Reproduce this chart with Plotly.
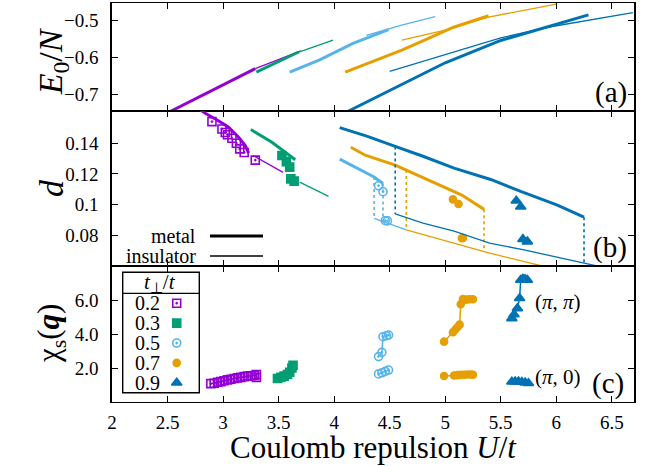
import plotly.graph_objects as go
from plotly.subplots import make_subplots

# ---------------- colours / labels ----------------
PURPLE = "#9400D3"; GREEN = "#009E73"; LBLUE = "#56B4E9"; ORANGE = "#E69F00"; BLUE = "#0072B2"
tperp_labels = ["0.2", "0.3", "0.5", "0.7", "0.9"]
x_ticks = [2, 2.5, 3, 3.5, 4, 4.5, 5, 5.5, 6, 6.5]
x_ticktext = ["2", "2.5", "3", "3.5", "4", "4.5", "5", "5.5", "6", "6.5"]
ya_ticks = [-0.7, -0.6, -0.5]
yb_ticks = [0.08, 0.1, 0.12, 0.14]
yb_ticktext = ["0.08", "0.1", "0.12", "0.14"]
yc_ticks = [2, 4, 6]
yc_ticktext = ["2.0", "4.0", "6.0"]

# ---------------- panel (a): E0/N ----------------
ea02_met_U = [2.52, 2.80, 3.05, 3.29]
ea02_met_E = [-0.747, -0.705, -0.667, -0.631]
ea02_ins_U = [3.29, 3.50, 3.70]
ea02_ins_E = [-0.631, -0.606, -0.583]
ea03_met_U = [3.30, 3.50, 3.68]
ea03_met_E = [-0.640, -0.611, -0.586]
ea03_ins_U = [3.65, 3.82, 3.99]
ea03_ins_E = [-0.590, -0.571, -0.554]
ea05_met_U = [3.60, 3.87, 4.17, 4.49]
ea05_met_E = [-0.640, -0.607, -0.563, -0.526]
ea05_ins_U = [4.29, 4.60, 4.91]
ea05_ins_E = [-0.541, -0.514, -0.491]
ea07_met_U = [4.10, 4.35, 4.61, 4.85, 5.07, 5.39]
ea07_met_E = [-0.640, -0.610, -0.581, -0.549, -0.520, -0.488]
ea07_ins_U = [4.61, 5.00, 5.39, 6.00]
ea07_ins_E = [-0.554, -0.527, -0.492, -0.457]
ea09_met_U = [4.13, 4.50, 5.00, 5.50, 6.00, 6.29]
ea09_met_E = [-0.745, -0.689, -0.615, -0.555, -0.510, -0.486]
ea09_ins_U = [4.50, 5.00, 5.50, 5.95, 6.69]
ea09_ins_E = [-0.638, -0.592, -0.548, -0.518, -0.480]

# ---------------- panel (b): d ----------------
d02_met_U = [2.78, 2.84, 2.95, 3.05, 3.14, 3.20, 3.23]
d02_met_d = [0.1625, 0.1595, 0.1550, 0.1504, 0.1439, 0.1385, 0.1335]
d02_ins_U = [3.27, 3.54]
d02_ins_d = [0.1320, 0.1210]
d02_pts_U = [2.90, 2.99, 3.02, 3.04, 3.08, 3.12, 3.15, 3.19, 3.29]
d02_pts_d = [0.1541, 0.1493, 0.1470, 0.1455, 0.1432, 0.1400, 0.1363, 0.1340, 0.1290]

d03_met_U = [3.25, 3.44, 3.65]
d03_met_d = [0.1489, 0.1406, 0.1292]
d03_ins_U = [3.69, 3.95]
d03_ins_d = [0.1147, 0.1054]
d03_pts_U = [3.53, 3.57, 3.60, 3.61, 3.64]
d03_pts_d = [0.1320, 0.1280, 0.1244, 0.1168, 0.1153]

d05_met_U = [4.05, 4.28, 4.36, 4.44]
d05_met_d = [0.1296, 0.1212, 0.1180, 0.1138]
d05_ins_U = [4.36, 4.65]
d05_ins_d = [0.0910, 0.0835]
d05_pts_U = [4.40, 4.44, 4.46, 4.48]
d05_pts_d = [0.1123, 0.1084, 0.0895, 0.0894]
d05_trans_U = [4.36, 4.44]
d05_trans_top = [0.1180, 0.1138]
d05_trans_bot = [0.0910, 0.0885]

d07_met_U = [4.15, 4.28, 4.55, 4.65, 4.88, 5.15, 5.35]
d07_met_d = [0.1374, 0.1322, 0.1257, 0.1225, 0.1149, 0.1062, 0.0969]
d07_ins_U = [4.65, 4.88, 5.15, 5.40, 5.89, 6.00]
d07_ins_d = [0.0835, 0.0788, 0.0735, 0.0684, 0.0597, 0.0580]
d07_pts_U = [5.07, 5.12, 5.15, 5.16]
d07_pts_d = [0.1034, 0.1004, 0.0781, 0.0783]
d07_trans_U = [4.65, 5.35]
d07_trans_top = [0.1225, 0.0969]
d07_trans_bot = [0.0835, 0.0692]

d09_met_U = [4.05, 4.30, 4.55, 4.80, 5.08, 5.41, 5.68, 6.01, 6.25]
d09_met_d = [0.1502, 0.1445, 0.1379, 0.1315, 0.1238, 0.1164, 0.1086, 0.0997, 0.0918]
d09_ins_U = [4.55, 4.80, 5.08, 5.40, 5.71, 6.01, 6.25, 6.40]
d09_ins_d = [0.0939, 0.0880, 0.0827, 0.0749, 0.0705, 0.0658, 0.0619, 0.0595]
d09_pts_U = [5.64, 5.68, 5.70, 5.74]
d09_pts_d = [0.1025, 0.0986, 0.0775, 0.0759]
d09_trans_U = [4.55, 6.25]
d09_trans_top = [0.1379, 0.0918]
d09_trans_bot = [0.0939, 0.0619]

# ---------------- panel (c): chi_s(q) ----------------
chi02_U = [2.89, 2.92, 2.95, 2.98, 3.01, 3.04, 3.07, 3.10, 3.13, 3.16, 3.19, 3.22, 3.25, 3.28, 3.30, 3.30]
chi02 = [1.08, 1.10, 1.16, 1.20, 1.25, 1.30, 1.34, 1.38, 1.42, 1.45, 1.49, 1.52, 1.54, 1.56, 1.62, 1.45]
chi03_U = [3.49, 3.52, 3.55, 3.58, 3.60, 3.62, 3.63]
chi03 = [1.38, 1.45, 1.52, 1.62, 1.75, 2.00, 2.16]
chi05_pp_U = [4.40, 4.43, 4.44, 4.47, 4.49]
chi05_pp = [2.67, 2.92, 3.84, 3.90, 3.94]
chi05_p0_U = [4.40, 4.43, 4.46, 4.49]
chi05_p0 = [1.65, 1.72, 1.80, 1.88]
chi07_pp_U = [4.99, 5.07, 5.09, 5.11, 5.13, 5.14, 5.16, 5.19, 5.22, 5.25]
chi07_pp = [3.55, 4.10, 4.25, 4.40, 4.55, 5.75, 6.05, 6.02, 6.04, 6.04]
chi07_p0_U = [4.99, 5.08, 5.11, 5.14, 5.17, 5.20, 5.23, 5.25]
chi07_p0 = [1.53, 1.56, 1.58, 1.60, 1.60, 1.62, 1.62, 1.60]
chi09_pp_U = [5.60, 5.62, 5.65, 5.67, 5.68, 5.70, 5.72, 5.74]
chi09_pp = [4.92, 5.15, 5.51, 6.10, 7.18, 7.25, 7.22, 7.18]
chi09_p0_U = [5.60, 5.63, 5.66, 5.69, 5.72, 5.75]
chi09_p0 = [1.19, 1.20, 1.20, 1.18, 1.14, 1.10]

FONT = "Liberation Serif"
THICK = 3.0
THIN = 1.3

colors = [PURPLE, GREEN, LBLUE, ORANGE, BLUE]
symbols = ["square-open-dot", "square", "circle-open-dot", "circle", "triangle-up"]
msizes = [8, 8, 8, 7, 9]

series = [
    dict(ea=(ea02_met_U, ea02_met_E, ea02_ins_U, ea02_ins_E),
         db=(d02_met_U, d02_met_d, d02_ins_U, d02_ins_d, d02_pts_U, d02_pts_d),
         tr=None, chi=[(chi02_U, chi02)]),
    dict(ea=(ea03_met_U, ea03_met_E, ea03_ins_U, ea03_ins_E),
         db=(d03_met_U, d03_met_d, d03_ins_U, d03_ins_d, d03_pts_U, d03_pts_d),
         tr=None, chi=[(chi03_U, chi03)]),
    dict(ea=(ea05_met_U, ea05_met_E, ea05_ins_U, ea05_ins_E),
         db=(d05_met_U, d05_met_d, d05_ins_U, d05_ins_d, d05_pts_U, d05_pts_d),
         tr=(d05_trans_U, d05_trans_top, d05_trans_bot),
         chi=[(chi05_pp_U, chi05_pp), (chi05_p0_U, chi05_p0)]),
    dict(ea=(ea07_met_U, ea07_met_E, ea07_ins_U, ea07_ins_E),
         db=(d07_met_U, d07_met_d, d07_ins_U, d07_ins_d, d07_pts_U, d07_pts_d),
         tr=(d07_trans_U, d07_trans_top, d07_trans_bot),
         chi=[(chi07_pp_U, chi07_pp), (chi07_p0_U, chi07_p0)]),
    dict(ea=(ea09_met_U, ea09_met_E, ea09_ins_U, ea09_ins_E),
         db=(d09_met_U, d09_met_d, d09_ins_U, d09_ins_d, d09_pts_U, d09_pts_d),
         tr=(d09_trans_U, d09_trans_top, d09_trans_bot),
         chi=[(chi09_pp_U, chi09_pp), (chi09_p0_U, chi09_p0)]),
]

fig = make_subplots(rows=3, cols=1, shared_xaxes=True, vertical_spacing=0)

def ln(x, y, col, w, row, dash="solid"):
    fig.add_trace(go.Scatter(x=x, y=y, mode="lines", line=dict(color=col, width=w, dash=dash),
                             showlegend=False, hoverinfo="skip"), row=row, col=1)

def mk(col, sym, size):
    return dict(symbol=sym, size=size, color=col, line=dict(color=col, width=1.6))

for s, col, sym, msz in zip(series, colors, symbols, msizes):
    mU, mE, iU, iE = s["ea"]
    ln(iU, iE, col, THIN, 1)
    ln(mU, mE, col, THICK, 1)
    dmU, dmd, diU, did, pU, pd_ = s["db"]
    if s["tr"] is not None:
        tU, tt, tb = s["tr"]
        for u, a, b in zip(tU, tt, tb):
            ln([u, u], [a, b], col, 1.6, 2, dash="dot")
    ln(diU, did, col, THIN, 2)
    ln(dmU, dmd, col, THICK, 2)
    fig.add_trace(go.Scatter(x=pU, y=pd_, mode="markers", showlegend=False,
                             marker=mk(col, sym, msz), hoverinfo="skip"), row=2, col=1)
    for cu, cv in s["chi"]:
        fig.add_trace(go.Scatter(x=cu, y=cv, mode="lines+markers", showlegend=False,
                                 line=dict(color=col, width=1.5),
                                 marker=mk(col, sym, msz), hoverinfo="skip"), row=3, col=1)

W, H = 649, 466
ml, mr, mt, mb = 112, 15, 3, 64
ph = H - mt - mb
pw = W - ml - mr
def py(p):  # pixel row -> paper y
    return (H - mb - p) / ph
def px(p):
    return (p - ml) / pw

dom_a = [py(111), 1.0]
dom_b = [py(266), py(111)]
dom_c = [0.0, py(266)]

tick_common = dict(ticks="inside", ticklen=6, tickwidth=1.2, tickcolor="black",
                   showgrid=False, zeroline=False, mirror="ticks", showline=True,
                   linecolor="black",
                   tickfont=dict(family=FONT, size=19, color="black"))

for i in (1, 2, 3):
    fig.update_layout({f"xaxis{i if i > 1 else ''}": dict(
        range=[2, 6.7], tickvals=x_ticks, ticktext=x_ticktext, linewidth=1.1,
        showticklabels=(i == 3), ticklabelstandoff=3, **tick_common)})

fig.update_layout(
    yaxis=dict(domain=dom_a, range=[-0.745, -0.454], tickvals=ya_ticks, linewidth=1.6,
               ticklabelstandoff=8, **tick_common),
    yaxis2=dict(domain=dom_b, range=[0.06, 0.161], tickvals=yb_ticks, ticktext=yb_ticktext,
                linewidth=1.6, ticklabelstandoff=8, **tick_common),
    yaxis3=dict(domain=dom_c, range=[0, 8], tickvals=yc_ticks, ticktext=yc_ticktext,
                linewidth=1.6, ticklabelstandoff=8, **tick_common),
)

# ---- t_perp/t key: hidden axes spanning the key box, one row per t value ----
key_left, key_right, key_top, key_head, key_bot = 122.7, 199.3, 272.3, 293.3, 392.7
fig.update_layout(
    xaxis4=dict(domain=[px(key_left), px(key_right)], range=[0, 1], visible=False,
                anchor="y4", fixedrange=True),
    yaxis4=dict(domain=[py(key_bot), py(key_head)], range=[len(tperp_labels) - 0.5, -0.5],
                visible=False, anchor="x4", fixedrange=True),
)
rows = list(range(len(tperp_labels)))
for r, col, sym, msz in zip(rows, colors, symbols, msizes):
    fig.add_trace(go.Scatter(x=[0.705], y=[r], mode="markers", marker=mk(col, sym, msz),
                             xaxis="x4", yaxis="y4", showlegend=False, hoverinfo="skip"))

shapes = [
    dict(type="rect", xref="paper", yref="paper", x0=px(key_left), x1=px(key_right),
         y0=py(key_bot), y1=py(key_top), line=dict(color="black", width=1.4),
         fillcolor="rgba(0,0,0,0)"),
    dict(type="line", xref="paper", yref="paper", x0=px(key_left), x1=px(key_right),
         y0=py(key_head), y1=py(key_head), line=dict(color="black", width=1.3)),
    # metal / insulator key lines
    dict(type="line", xref="paper", yref="paper", x0=px(210), x1=px(263),
         y0=py(236), y1=py(236), line=dict(color="black", width=THICK)),
    dict(type="line", xref="paper", yref="paper", x0=px(210), x1=px(263),
         y0=py(256), y1=py(256), line=dict(color="black", width=THIN)),
]
fig.update_layout(shapes=shapes)

fig.update_layout(
    width=W, height=H, margin=dict(l=ml, r=mr, t=mt, b=mb),
    plot_bgcolor="white", paper_bgcolor="white", showlegend=False,
    font=dict(family=FONT, color="black"),
)

ann = []
for r, lab in zip(rows, tperp_labels):
    ann.append(dict(text=lab, xref="x4", yref="y4", x=0.13, y=r, xanchor="left",
                    yanchor="middle", showarrow=False,
                    font=dict(family=FONT, size=20, color="black")))
ann.append(dict(text="<i>t</i><sub>⊥</sub>/<i>t</i>", xref="paper", yref="paper",
                x=px(160), y=py(282.5), xanchor="center", yanchor="middle", showarrow=False,
                font=dict(family=FONT, size=21, color="black")))
ann.append(dict(text="metal", xref="paper", yref="paper", x=px(198), y=py(236),
                xanchor="right", yanchor="middle", showarrow=False,
                font=dict(family=FONT, size=20, color="black")))
ann.append(dict(text="insulator", xref="paper", yref="paper", x=px(198), y=py(256),
                xanchor="right", yanchor="middle", showarrow=False,
                font=dict(family=FONT, size=20, color="black")))

ann.append(dict(text="<i>E</i><sub>0</sub>/<i>N</i>", xref="paper", yref="y domain",
                x=px(30), y=0.46, textangle=-90, showarrow=False,
                font=dict(family=FONT, size=34, color="black")))
ann.append(dict(text="<i>d</i>", xref="paper", yref="y2 domain",
                x=px(31), y=0.5, textangle=-90, showarrow=False,
                font=dict(family=FONT, size=34, color="black")))
ann.append(dict(text="χ<sub>s</sub>(<b><i>q</i></b>)", xref="paper", yref="y3 domain",
                x=px(29), y=0.5, textangle=-90, showarrow=False,
                font=dict(family=FONT, size=31, color="black")))
ann.append(dict(text="Coulomb repulsion <i>U</i>/<i>t</i>", xref="paper", yref="paper",
                x=px(373), y=py(447), xanchor="center", yanchor="middle", showarrow=False,
                font=dict(family=FONT, size=31, color="black")))
panel_font = dict(family=FONT, size=29, color="black")
ann.append(dict(text="(a)", xref="x domain", yref="y domain", x=0.99, y=0.0,
                xanchor="right", yanchor="bottom", showarrow=False, font=panel_font))
ann.append(dict(text="(b)", xref="x2 domain", yref="y2 domain", x=0.99, y=0.0,
                xanchor="right", yanchor="bottom", showarrow=False, font=panel_font))
ann.append(dict(text="(c)", xref="x3 domain", yref="y3 domain", x=0.985, y=0.0,
                xanchor="right", yanchor="bottom", showarrow=False, font=panel_font))
ann.append(dict(text="(<i>π</i>, <i>π</i>)", xref="x3", yref="y3", x=5.79, y=5.9,
                xanchor="left", yanchor="middle", showarrow=False,
                font=dict(family=FONT, size=21, color="black")))
ann.append(dict(text="(<i>π</i>, 0)", xref="x3", yref="y3", x=5.79, y=1.5,
                xanchor="left", yanchor="middle", showarrow=False,
                font=dict(family=FONT, size=21, color="black")))
fig.update_layout(annotations=ann)

fig.write_html("out.html")
